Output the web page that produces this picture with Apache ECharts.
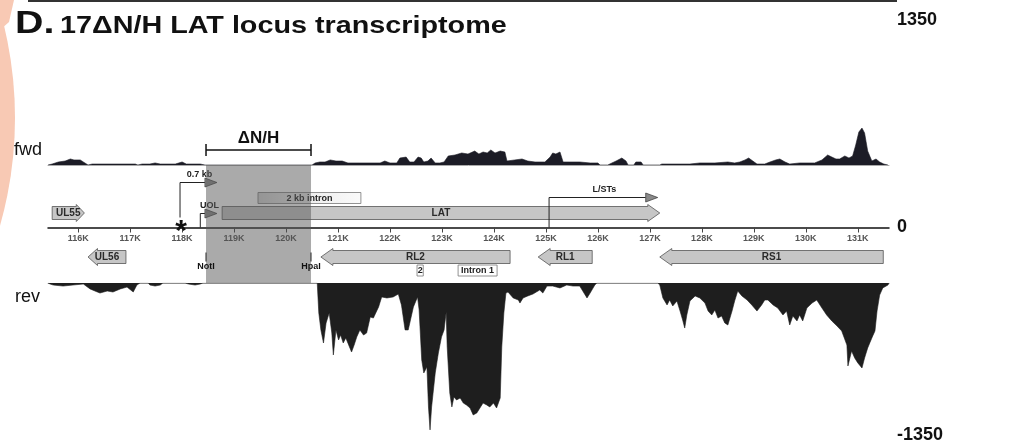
<!DOCTYPE html>
<html><head><meta charset="utf-8">
<script src="https://cdn.jsdelivr.net/npm/echarts@6/dist/echarts.min.js"></script>
<style>html,body{margin:0;padding:0;background:#fff}#c{width:1016px;height:446px}</style>
</head><body><div id="c"></div>
<script>
// ---------------- data ----------------
const tickValues = [116,117,118,119,120,121,122,123,124,125,126,127,128,129,130,131];
const scaleMax = 1350;
const titlePrefix = 'D.';
const titleText = '17ΔN/H LAT locus transcriptome';
const trackLabels = ['fwd', 'rev'];
// forward-strand coverage [position kb, reads]
const fwdCoverage = [[115.42,0],[115.50,9],[115.62,28],[115.75,37],[115.85,56],[115.92,47],[116.04,47],[116.13,19],[116.19,0],[116.27,9],[117.10,9],[117.15,0],[117.23,9],[117.38,9],[117.48,19],[117.58,9],[117.87,9],[118.00,28],[118.08,9],[118.35,9],[118.44,0],[120.50,0],[120.56,19],[120.65,28],[120.75,28],[120.85,47],[120.96,37],[121.08,37],[121.19,19],[121.42,19],[121.71,19],[121.81,19],[121.90,37],[122.00,19],[122.13,19],[122.19,65],[122.31,74],[122.38,28],[122.46,28],[122.54,74],[122.60,65],[122.65,28],[122.73,37],[122.79,65],[122.87,19],[122.96,19],[123.04,28],[123.12,84],[123.25,93],[123.38,112],[123.50,102],[123.63,130],[123.71,102],[123.79,121],[123.87,112],[123.94,140],[124.02,112],[124.12,130],[124.21,121],[124.25,37],[124.40,47],[124.54,56],[124.65,37],[124.79,28],[124.98,28],[125.08,74],[125.13,112],[125.19,102],[125.27,121],[125.33,28],[125.46,28],[125.65,28],[125.85,19],[126.00,19],[126.04,0],[126.19,0],[126.27,19],[126.35,37],[126.46,65],[126.54,37],[126.58,0],[126.69,0],[126.73,28],[126.83,28],[126.87,0],[127.19,0],[127.23,9],[127.58,9],[127.77,9],[127.96,19],[128.25,19],[128.50,28],[128.63,19],[128.73,28],[128.83,47],[128.90,65],[128.98,37],[129.06,9],[129.21,9],[129.31,28],[129.42,47],[129.50,56],[129.60,28],[129.69,9],[129.88,19],[130.17,19],[130.31,47],[130.42,93],[130.50,74],[130.58,56],[130.65,56],[130.75,84],[130.83,65],[130.90,84],[130.96,186],[131.02,307],[131.08,344],[131.13,298],[131.19,130],[131.27,37],[131.35,56],[131.42,28],[131.50,9],[131.58,0]];
// reverse-strand coverage [position kb, reads]
const revCoverage = [[115.42,0],[115.46,-9],[115.52,-18],[115.71,-27],[115.90,-18],[116.10,-9],[116.23,-53],[116.37,-80],[116.42,-89],[116.56,-71],[116.67,-80],[116.81,-53],[116.94,-36],[117.06,-80],[117.13,-18],[117.19,0],[117.35,0],[117.38,-18],[117.48,-27],[117.58,-18],[117.63,0],[118.06,0],[118.12,-9],[118.25,-18],[118.35,-9],[118.40,0],[120.50,0],[120.60,0],[120.63,-266],[120.67,-417],[120.72,-533],[120.77,-355],[120.83,-266],[120.88,-444],[120.91,-639],[120.96,-417],[121.01,-506],[121.05,-462],[121.10,-533],[121.15,-488],[121.22,-568],[121.26,-613],[121.31,-551],[121.36,-480],[121.42,-417],[121.49,-462],[121.55,-444],[121.62,-302],[121.68,-311],[121.78,-213],[121.84,-124],[121.94,-133],[122.06,-124],[122.16,-98],[122.22,-195],[122.29,-417],[122.35,-417],[122.45,-213],[122.53,-124],[122.56,-240],[122.61,-684],[122.65,-799],[122.71,-746],[122.74,-1101],[122.77,-1305],[122.80,-1101],[122.87,-799],[122.93,-622],[122.99,-480],[123.04,-417],[123.08,-258],[123.10,-568],[123.15,-977],[123.19,-1101],[123.23,-1012],[123.28,-1039],[123.35,-1021],[123.41,-1066],[123.47,-1083],[123.54,-1110],[123.60,-1172],[123.67,-1154],[123.73,-1110],[123.79,-1066],[123.86,-1083],[123.92,-1101],[123.99,-1066],[124.05,-1110],[124.12,-1021],[124.15,-568],[124.19,-266],[124.23,-89],[124.27,-80],[124.37,-133],[124.47,-151],[124.50,-178],[124.56,-133],[124.65,-115],[124.75,-98],[124.88,-62],[124.94,-89],[125.02,-27],[125.13,-27],[125.27,-44],[125.40,-18],[125.52,-27],[125.65,-27],[125.79,-133],[125.85,-89],[125.94,-18],[125.98,0],[127.15,0],[127.19,-18],[127.25,-133],[127.33,-195],[127.38,-151],[127.44,-204],[127.52,-160],[127.58,-249],[127.63,-329],[127.67,-400],[127.71,-284],[127.77,-160],[127.87,-115],[127.96,-133],[128.06,-178],[128.12,-249],[128.19,-284],[128.25,-240],[128.31,-311],[128.38,-293],[128.44,-355],[128.50,-373],[128.58,-249],[128.63,-160],[128.69,-71],[128.77,-115],[128.87,-151],[128.96,-195],[129.06,-249],[129.15,-195],[129.21,-151],[129.27,-151],[129.37,-195],[129.46,-222],[129.56,-284],[129.63,-249],[129.69,-373],[129.75,-293],[129.83,-337],[129.88,-284],[129.94,-337],[130.02,-222],[130.12,-178],[130.21,-151],[130.31,-222],[130.40,-284],[130.50,-337],[130.60,-382],[130.69,-426],[130.79,-551],[130.81,-737],[130.88,-604],[130.94,-666],[131.00,-710],[131.08,-755],[131.13,-666],[131.19,-577],[131.27,-488],[131.33,-426],[131.37,-249],[131.42,-107],[131.48,-44],[131.58,-18],[131.60,0]];
// genes (kb)
const genes = [
  {name:'UL55', start:115.50, end:116.12, strand:'+'},
  {name:'LAT',  start:118.77, end:127.19, strand:'+'},
  {name:'UL56', start:116.19, end:116.92, strand:'-'},
  {name:'RL2',  start:120.67, end:124.31, strand:'-'},
  {name:'RL1',  start:124.85, end:125.89, strand:'-'},
  {name:'RS1',  start:127.19, end:131.49, strand:'-'}
];
// boxed features (kb)
const features = [
  {name:'2 kb intron', start:119.46, end:121.44, strand:'+'},
  {name:'2',           start:122.52, end:122.64, strand:'-'},
  {name:'Intron 1',    start:123.31, end:124.06, strand:'-'}
];
// transcription start arrows (kb)
const promoters = [
  {name:'UOL',    start:118.35, tip:118.67},
  {name:'0.7 kb', start:117.96, tip:118.67},
  {name:'L/STs',  start:125.06, tip:127.15}
];
const marks = [{name:'*', pos:117.96}];
const sites = [{name:'NotI', pos:118.46}, {name:'HpaI', pos:120.48}];
const deletionLabel = 'ΔN/H';

// ---------------- layout / style ----------------
const L = 48, R = 127, TOP = 20, FWD_BASE = 165, REV_BASE = 283, BOTTOM = 435;
const ZERO_Y = TOP + (BOTTOM - TOP) / 2;
const XMIN = 115.42, XMAX = 131.6;
const FONT = '"Liberation Sans", Arial, sans-serif';
const promoterRise = {'UOL':14, '0.7 kb':45, 'L/STs':30};
const promoterFoot = {'UOL':0, '0.7 kb':10, 'L/STs':0};

function geneItem(params, api) {
  const g = genes[params.dataIndex];
  const a = api.coord([g.start, 0]), b = api.coord([g.end, 0]);
  const fwd = g.strand === '+';
  const cy = a[1] + (fwd ? -14.5 : 29.5);
  const bh = 6.5, hh = 8.5;
  const hl = Math.min(12, (b[0] - a[0]) * 0.25);
  let pts;
  if (fwd) {
    const xb = b[0] - hl;
    pts = [[a[0],cy-bh],[xb,cy-bh],[xb,cy-hh],[b[0],cy],[xb,cy+hh],[xb,cy+bh],[a[0],cy+bh]];
  } else {
    const xb = a[0] + hl;
    pts = [[b[0],cy-bh],[xb,cy-bh],[xb,cy-hh],[a[0],cy],[xb,cy+hh],[xb,cy+bh],[b[0],cy+bh]];
  }
  return {type:'group', children:[
    {type:'polygon', shape:{points:pts}, style:{fill:'#c6c6c6', stroke:'#555', lineWidth:0.8}},
    {type:'text', style:{text:g.name, x:(a[0]+b[0])/2, y:cy+0.5, align:'center', verticalAlign:'middle',
      font:'bold 10px ' + FONT, fill:'#2a2a2a'}}
  ]};
}
function featureItem(params, api) {
  const f = features[params.dataIndex];
  const a = api.coord([f.start, 0]), b = api.coord([f.end, 0]);
  const cy = a[1] + (f.strand === '+' ? -29.5 : 43);
  const h = 11;
  const isIntronFwd = f.strand === '+';
  return {type:'group', children:[
    {type:'rect', shape:{x:a[0], y:cy-h/2, width:b[0]-a[0], height:h},
      style:{fill: isIntronFwd ? new echarts.graphic.LinearGradient(0,0,1,0,[{offset:0,color:'#d4d4d4'},{offset:0.3,color:'#e8e8e8'},{offset:1,color:'#fafafa'}]) : '#fff',
        stroke:'#777', lineWidth:0.8}},
    {type:'text', style:{text:f.name, x:(a[0]+b[0])/2, y:cy+0.5, align:'center', verticalAlign:'middle',
      font:'bold 9px ' + FONT, fill:'#222'}}
  ]};
}
function promoterItem(params, api) {
  const p = promoters[params.dataIndex];
  const a = api.coord([p.start, 0]), t = api.coord([p.tip, 0]);
  const base = a[1] - promoterFoot[p.name];
  const y = a[1] - promoterRise[p.name];
  const tl = 12, th = 4.5;
  const xs = t[0] - tl;
  return {type:'group', children:[
    {type:'polyline', shape:{points:[[a[0],base],[a[0],y],[xs,y]]}, style:{stroke:'#222', lineWidth:1, fill:null}},
    {type:'polygon', shape:{points:[[xs,y-th],[t[0],y],[xs,y+th]]}, style:{fill:'#8a8a8a', stroke:'#333', lineWidth:0.7}},
    {type:'text', style:{text:p.name, x:(a[0]+t[0])/2 + 1, y:y-8, align:'center', verticalAlign:'middle',
      font:'bold 9px ' + FONT, fill:'#222'}}
  ]};
}
function markItem(params, api) {
  const m = marks[params.dataIndex];
  const a = api.coord([m.pos, 0]);
  return {type:'text', style:{text:m.name, x:a[0]+1, y:a[1]+4, align:'center', verticalAlign:'middle',
    font:'bold 30px ' + FONT, fill:'#111'}};
}
function deletionItem(params, api) {
  if (params.dataIndex !== 0) return null;
  const a = api.coord([sites[0].pos, 0]), b = api.coord([sites[1].pos, 0]);
  const ch = [
    {type:'rect', shape:{x:a[0], y:FWD_BASE, width:b[0]-a[0], height:REV_BASE-FWD_BASE},
      style:{fill:'rgba(85,85,85,0.5)'}},
    {type:'line', shape:{x1:a[0], y1:FWD_BASE-15, x2:b[0], y2:FWD_BASE-15}, style:{stroke:'#111', lineWidth:1.5}},
    {type:'line', shape:{x1:a[0], y1:FWD_BASE-21, x2:a[0], y2:FWD_BASE-9}, style:{stroke:'#111', lineWidth:1.5}},
    {type:'line', shape:{x1:b[0], y1:FWD_BASE-21, x2:b[0], y2:FWD_BASE-9}, style:{stroke:'#111', lineWidth:1.5}},
    {type:'text', style:{text:deletionLabel, x:(a[0]+b[0])/2, y:FWD_BASE-27, align:'center', verticalAlign:'middle',
      font:'bold 17px ' + FONT, fill:'#111'}}
  ];
  sites.forEach(function (s) {
    const p = api.coord([s.pos, 0]);
    ch.push({type:'line', shape:{x1:p[0], y1:p[1]+25, x2:p[0], y2:p[1]+34}, style:{stroke:'#222', lineWidth:1}});
    ch.push({type:'text', style:{text:s.name, x:p[0], y:p[1]+39.5, align:'center', verticalAlign:'middle',
      font:'bold 9px ' + FONT, fill:'#111'}});
  });
  return {type:'group', children:ch};
}

const chart = echarts.init(document.getElementById('c'), null, {renderer:'canvas'});
chart.setOption({
  animation:false,
  backgroundColor:'#fff',
  grid:[
    {left:L, right:R, top:TOP, height:FWD_BASE-TOP},
    {left:L, right:R, top:REV_BASE, height:BOTTOM-REV_BASE},
    {left:L, right:R, top:TOP, height:BOTTOM-TOP}
  ],
  xAxis:[
    {type:'value', gridIndex:0, min:XMIN, max:XMAX, axisLine:{show:true, lineStyle:{color:'#aaa', width:1}},
      axisTick:{show:false}, axisLabel:{show:false}, splitLine:{show:false}},
    {type:'value', gridIndex:1, min:XMIN, max:XMAX, position:'top', axisLine:{show:true, lineStyle:{color:'#bbb', width:1}},
      axisTick:{show:false}, axisLabel:{show:false}, splitLine:{show:false}},
    {type:'value', gridIndex:2, min:XMIN, max:XMAX, position:'bottom', offset:-(BOTTOM - ZERO_Y),
      axisLine:{show:true, onZero:false, lineStyle:{color:'#111', width:1.5}},
      axisTick:{show:true, customValues:tickValues, length:5, lineStyle:{color:'#444', width:1}},
      axisLabel:{show:true, customValues:tickValues, formatter:function(v){return v + 'K';}, margin:7,
        fontSize:9, fontWeight:'bold', fontFamily:FONT, color:'#555'},
      splitLine:{show:false}}
  ],
  yAxis:[
    {type:'value', gridIndex:0, min:0, max:scaleMax, show:false},
    {type:'value', gridIndex:1, min:-scaleMax, max:0, show:false},
    {type:'value', gridIndex:2, min:-scaleMax, max:scaleMax, interval:scaleMax, position:'right',
      axisLine:{show:false}, axisTick:{show:false}, splitLine:{show:false},
      axisLabel:{show:true, margin:8, align:'left', fontSize:18, fontWeight:'bold', fontFamily:FONT, color:'#111',
        formatter:function(v){return String(v);}}}
  ],
  series:[
    {type:'line', xAxisIndex:0, yAxisIndex:0, data:fwdCoverage, showSymbol:false, symbol:'none',
      lineStyle:{width:0.6, color:'#1c1c26'}, areaStyle:{color:'#1c1c26', opacity:1}, z:2},
    {type:'line', xAxisIndex:1, yAxisIndex:1, data:revCoverage, showSymbol:false, symbol:'none',
      lineStyle:{width:0.6, color:'#1e1e1e'}, areaStyle:{color:'#1e1e1e', opacity:1}, z:2},
    {type:'custom', xAxisIndex:2, yAxisIndex:2, data:genes.map(function(g){return [g.start, g.end];}),
      renderItem:geneItem, z:3},
    {type:'custom', xAxisIndex:2, yAxisIndex:2, data:features.map(function(f){return [f.start, f.end];}),
      renderItem:featureItem, z:3},
    {type:'custom', xAxisIndex:2, yAxisIndex:2, data:promoters.map(function(p){return [p.start, p.tip];}),
      renderItem:promoterItem, z:3},
    {type:'custom', xAxisIndex:2, yAxisIndex:2, data:marks.map(function(m){return [m.pos, 0];}),
      renderItem:markItem, z:3},
    {type:'custom', xAxisIndex:2, yAxisIndex:2, data:sites.map(function(s){return [s.pos, 0];}),
      renderItem:deletionItem, z:5}
  ],
  graphic:[
    {type:'circle', shape:{cx:-380, cy:118, r:395}, style:{fill:'#f8c9b4'}, z:-1},
    {type:'polygon', shape:{points:[[0,0],[14,0],[9,22],[0,30]]}, style:{fill:'#f8c9b4'}, z:-1},
    {type:'line', shape:{x1:28, y1:1, x2:897, y2:1}, style:{stroke:'#333', lineWidth:2}},
    {type:'text', x:15, y:40, scaleX:1.27, originX:0, originY:0,
      style:{text:titlePrefix, font:'bold 31px ' + FONT, fill:'#111', verticalAlign:'bottom'}},
    {type:'text', x:60, y:38, scaleX:1.25, originX:0, originY:0,
      style:{text:titleText, font:'bold 23px ' + FONT, fill:'#111', verticalAlign:'bottom'}},
    {type:'text', left:14, top:141, style:{text:trackLabels[0], font:'18px ' + FONT, fill:'#111'}},
    {type:'text', left:15, top:288, style:{text:trackLabels[1], font:'18px ' + FONT, fill:'#111'}}
  ]
});
</script>
</body></html>
